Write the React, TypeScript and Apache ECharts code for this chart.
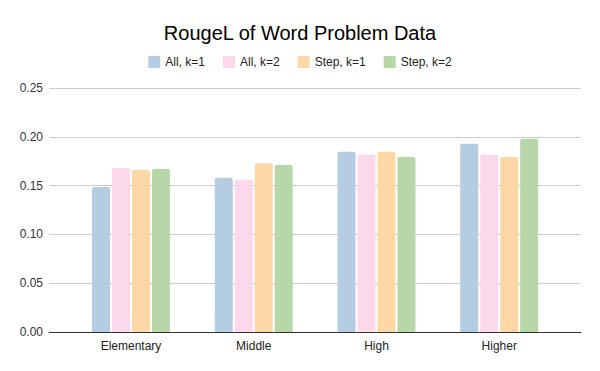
import React, { useEffect, useRef } from "react";
import * as echarts from "echarts";

const categories = ["Elementary", "Middle", "High", "Higher"];
const allK1 = [0.1486, 0.158, 0.1846, 0.1928];
const allK2 = [0.168, 0.156, 0.1815, 0.1815];
const stepK1 = [0.166, 0.173, 0.1846, 0.1794];
const stepK2 = [0.167, 0.171, 0.1794, 0.198];
const seriesNames = ["All, k=1", "All, k=2", "Step, k=1", "Step, k=2"];
const colors = ["#b4cde2", "#fcd9ea", "#fdd7a6", "#b7d7a9"];

export default function App() {
  const ref = useRef<HTMLDivElement>(null);
  useEffect(() => {
    if (!ref.current) return;
    const chart = echarts.init(ref.current, undefined, { renderer: "svg" });
    const values = [allK1, allK2, stepK1, stepK2];
    chart.setOption({
      animation: false,
      textStyle: { fontFamily: "Liberation Sans, Arial, sans-serif" },
      title: {
        text: "RougeL of Word Problem Data",
        left: "center",
        top: 18,
        textStyle: { fontSize: 20, fontWeight: "normal", color: "#000", fontFamily: "Liberation Sans, Arial, sans-serif" },
      },
      legend: {
        top: 51,
        left: "center",
        itemWidth: 12,
        itemHeight: 12,
        itemGap: 18,
        icon: "rect",
        textStyle: { fontSize: 12, color: "#222" },
        data: seriesNames,
      },
      grid: [
        { left: 49, right: 19, top: 88, bottom: 39 },
        { left: 69.6, right: 39.4, top: 88, bottom: 39 },
      ],
      xAxis: [
        {
          gridIndex: 0,
          type: "category",
          data: categories,
          axisLine: { show: true, lineStyle: { color: "#333", width: 1 } },
          axisTick: { show: false },
          axisLabel: { show: false },
        },
        {
          gridIndex: 1,
          type: "category",
          data: categories,
          axisLine: { show: false },
          axisTick: { show: false },
          axisLabel: { fontSize: 12, color: "#222", margin: 8 },
        },
      ],
      yAxis: [
        {
          gridIndex: 0,
          type: "value",
          min: 0,
          max: 0.25,
          interval: 0.05,
          axisLine: { show: false },
          axisTick: { show: false },
          axisLabel: { fontSize: 12, color: "#333", margin: 6, formatter: (v: number) => v.toFixed(2) },
          splitLine: { lineStyle: { color: "#cccccc", width: 1 } },
        },
        {
          gridIndex: 1,
          type: "value",
          min: 0,
          max: 0.25,
          interval: 0.05,
          axisLine: { show: false },
          axisTick: { show: false },
          axisLabel: { show: false },
          splitLine: { show: false },
        },
      ],
      series: seriesNames.map((name, i) => ({
        name,
        type: "bar",
        xAxisIndex: 1,
        yAxisIndex: 1,
        data: values[i],
        barWidth: 18,
        barGap: "11%",
        itemStyle: { color: colors[i], borderRadius: [2, 2, 0, 0] },
      })),
    });
    return () => chart.dispose();
  }, []);
  return <div ref={ref} style={{ width: 600, height: 371, position: "absolute", left: 0, top: 0 }} />;
}
